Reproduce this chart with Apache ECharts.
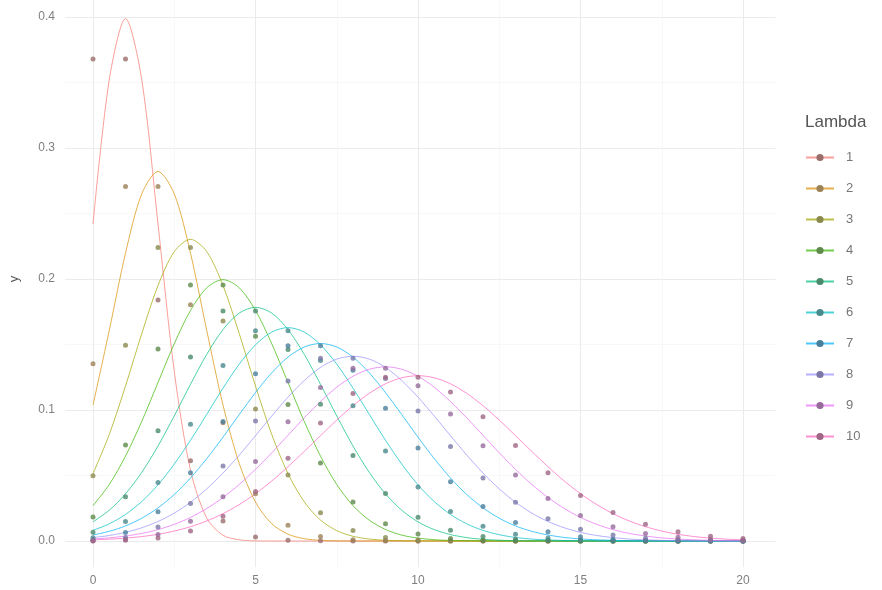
<!DOCTYPE html>
<html><head><meta charset="utf-8">
<script src="https://cdn.jsdelivr.net/npm/echarts@6/dist/echarts.min.js"></script>
<style>html,body{margin:0;padding:0;background:#fff}#c{width:882px;height:590px}</style>
</head><body><div id="c"></div>
<script>
const lambdas = ['1','2','3','4','5','6','7','8','9','10'];
const xTicks = [0,5,10,15,20];
const yTicks = [0.0,0.1,0.2,0.3,0.4];
const pointX = [0,1,2,3,4,5,6,7,8,9,10,11,12,13,14,15,16,17,18,19,20];
const curveX = [0,0.5,1,1.5,2,2.5,3,3.5,4,4.5,5,5.5,6,6.5,7,7.5,8,8.5,9,9.5,10,10.5,11,11.5,12,12.5,13,13.5,14,14.5,15,15.5,16,16.5,17,17.5,18,18.5,19,19.5,20];

// Poisson probabilities (points)
const pois1 = [0.3679,0.3679,0.1839,0.0613,0.0153,0.0031,0.0005,0.0001,0,0,0,0,0,0,0,0,0,0,0,0,0];
const pois2 = [0.1353,0.2707,0.2707,0.1804,0.0902,0.0361,0.0120,0.0034,0.0009,0.0002,0,0,0,0,0,0,0,0,0,0,0];
const pois3 = [0.0498,0.1494,0.2240,0.2240,0.1680,0.1008,0.0504,0.0216,0.0081,0.0027,0.0008,0.0002,0.0001,0,0,0,0,0,0,0,0];
const pois4 = [0.0183,0.0733,0.1465,0.1954,0.1954,0.1563,0.1042,0.0595,0.0298,0.0132,0.0053,0.0019,0.0006,0.0002,0.0001,0,0,0,0,0,0];
const pois5 = [0.0067,0.0337,0.0842,0.1404,0.1755,0.1755,0.1462,0.1044,0.0653,0.0363,0.0181,0.0082,0.0034,0.0013,0.0005,0.0002,0,0,0,0,0];
const pois6 = [0.0025,0.0149,0.0446,0.0892,0.1339,0.1606,0.1606,0.1377,0.1033,0.0688,0.0413,0.0225,0.0113,0.0052,0.0022,0.0009,0.0003,0.0001,0,0,0];
const pois7 = [0.0009,0.0064,0.0223,0.0521,0.0912,0.1277,0.1490,0.1490,0.1304,0.1014,0.0710,0.0452,0.0263,0.0142,0.0071,0.0033,0.0014,0.0006,0.0002,0.0001,0];
const pois8 = [0.0003,0.0027,0.0107,0.0286,0.0573,0.0916,0.1221,0.1396,0.1396,0.1241,0.0993,0.0722,0.0481,0.0296,0.0169,0.0090,0.0045,0.0021,0.0009,0.0004,0.0002];
const pois9 = [0.0001,0.0011,0.0050,0.0150,0.0337,0.0607,0.0911,0.1171,0.1318,0.1318,0.1186,0.0970,0.0728,0.0504,0.0324,0.0194,0.0109,0.0058,0.0029,0.0014,0.0006];
const pois10 = [0.0000,0.0005,0.0023,0.0076,0.0189,0.0378,0.0631,0.0901,0.1126,0.1251,0.1251,0.1137,0.0948,0.0729,0.0521,0.0347,0.0217,0.0128,0.0071,0.0037,0.0019];

// Normal density curves (lines)
const norm1 = [0.2420,0.3521,0.3989,0.3521,0.2420,0.1295,0.0540,0.0175,0.0044,0.0009,0.0001,0,0,0,0,0,0,0,0,0,0,0,0,0,0,0,0,0,0,0,0,0,0,0,0,0,0,0,0,0,0];
const norm2 = [0.1038,0.1607,0.2197,0.2650,0.2821,0.2650,0.2197,0.1607,0.1038,0.0591,0.0297,0.0132,0.0052,0.0018,0.0005,0.0001,0,0,0,0,0,0,0,0,0,0,0,0,0,0,0,0,0,0,0,0,0,0,0,0,0];
const norm3 = [0.0514,0.0813,0.1183,0.1583,0.1950,0.2209,0.2303,0.2209,0.1950,0.1583,0.1183,0.0813,0.0514,0.0299,0.0160,0.0079,0.0036,0.0015,0.0006,0.0002,0.0001,0,0,0,0,0,0,0,0,0,0,0,0,0,0,0,0,0,0,0,0];
const norm4 = [0.0270,0.0431,0.0648,0.0913,0.1210,0.1506,0.1760,0.1933,0.1995,0.1933,0.1760,0.1506,0.1210,0.0913,0.0648,0.0431,0.0270,0.0159,0.0088,0.0045,0.0022,0.0010,0.0004,0.0002,0.0001,0,0,0,0,0,0,0,0,0,0,0,0,0,0,0,0];
const norm5 = [0.0146,0.0235,0.0360,0.0524,0.0725,0.0955,0.1196,0.1425,0.1614,0.1740,0.1784,0.1740,0.1614,0.1425,0.1196,0.0955,0.0725,0.0524,0.0360,0.0235,0.0146,0.0087,0.0049,0.0026,0.0013,0.0006,0.0003,0.0001,0.0001,0,0,0,0,0,0,0,0,0,0,0,0];
const norm6 = [0.0081,0.0131,0.0203,0.0301,0.0429,0.0587,0.0769,0.0967,0.1167,0.1350,0.1498,0.1595,0.1629,0.1595,0.1498,0.1350,0.1167,0.0967,0.0769,0.0587,0.0429,0.0301,0.0203,0.0131,0.0081,0.0048,0.0027,0.0015,0.0008,0.0004,0.0002,0.0001,0,0,0,0,0,0,0,0,0];
const norm7 = [0.0046,0.0074,0.0115,0.0174,0.0253,0.0355,0.0481,0.0629,0.0793,0.0965,0.1133,0.1284,0.1404,0.1481,0.1508,0.1481,0.1404,0.1284,0.1133,0.0965,0.0793,0.0629,0.0481,0.0355,0.0253,0.0174,0.0115,0.0074,0.0046,0.0027,0.0016,0.0009,0.0005,0.0002,0.0001,0.0001,0,0,0,0,0];
const norm8 = [0.0026,0.0042,0.0066,0.0101,0.0149,0.0213,0.0296,0.0398,0.0519,0.0656,0.0804,0.0954,0.1098,0.1225,0.1325,0.1389,0.1410,0.1389,0.1325,0.1225,0.1098,0.0954,0.0804,0.0656,0.0519,0.0398,0.0296,0.0213,0.0149,0.0101,0.0066,0.0042,0.0026,0.0015,0.0009,0.0005,0.0003,0.0001,0.0001,0,0];
const norm9 = [0.0015,0.0024,0.0038,0.0058,0.0087,0.0127,0.0180,0.0248,0.0332,0.0432,0.0547,0.0673,0.0807,0.0940,0.1065,0.1174,0.1258,0.1311,0.1330,0.1311,0.1258,0.1174,0.1065,0.0940,0.0807,0.0673,0.0547,0.0432,0.0332,0.0248,0.0180,0.0127,0.0087,0.0058,0.0038,0.0024,0.0015,0.0009,0.0005,0.0003,0.0002];
const norm10 = [0.0009,0.0014,0.0022,0.0034,0.0051,0.0076,0.0109,0.0153,0.0209,0.0278,0.0361,0.0458,0.0567,0.0684,0.0804,0.0923,0.1033,0.1127,0.1200,0.1246,0.1262,0.1246,0.1200,0.1127,0.1033,0.0923,0.0804,0.0684,0.0567,0.0458,0.0361,0.0278,0.0209,0.0153,0.0109,0.0076,0.0051,0.0034,0.0022,0.0014,0.0009];

const poisSets = [pois1,pois2,pois3,pois4,pois5,pois6,pois7,pois8,pois9,pois10];
const normSets = [norm1,norm2,norm3,norm4,norm5,norm6,norm7,norm8,norm9,norm10];

const lineColors = ['#F8766D','#D89000','#A3A500','#39B600','#00BF7D','#00BFC4','#00B0F6','#9590FF','#E76BF3','#FF62BC'];
const pointColors = ['#9a6e6b','#9c8257','#8a8a4f','#5e8a4c','#4a8a6c','#4a8a8c','#4a7f9c','#7b78a8','#976c9c','#a06685'];

const series = [];
lambdas.forEach((name, i) => {
  series.push({
    name: name, type: 'line', xAxisIndex: 0, yAxisIndex: 0,
    data: curveX.map((x, j) => [x, normSets[i][j]]),
    smooth: 0.3, showSymbol: false, symbol: 'circle', symbolSize: 5,
    itemStyle: { color: pointColors[i] },
    lineStyle: { color: lineColors[i], width: 1, opacity: 0.7 },
    silent: true, z: 2
  });
});
lambdas.forEach((name, i) => {
  series.push({
    name: name, type: 'scatter', xAxisIndex: 0, yAxisIndex: 0,
    data: pointX.map((x, j) => [x, poisSets[i][j]]),
    symbol: 'circle', symbolSize: 5,
    itemStyle: { color: pointColors[i] },
    silent: true, z: 3
  });
});

const gridLine = { lineStyle: { color: '#ebebeb', width: 1 } };
const minorLine = { show: true, lineStyle: { color: '#f3f3f3', width: 0.6 } };
const labelColor = '#7f7f7f';

const option = {
  animation: false,
  backgroundColor: '#ffffff',
  title: { text: 'Lambda', left: 800, top: 109, textStyle: { fontSize: 17, fontWeight: 'normal', color: '#555', fontFamily: 'Liberation Sans' } },
  legend: {
    data: lambdas, orient: 'vertical', left: 800, top: 146,
    itemWidth: 28, itemHeight: 9, itemGap: 18,
    textStyle: { color: '#777', fontSize: 13, fontFamily: 'Liberation Sans', padding: [0,0,0,7] },
    selectedMode: false
  },
  grid: [
    { left: 60.5, right: 106.5, top: 0, bottom: 22.8, show: false },
    { left: 93, right: 139, top: 0, bottom: 22.8, show: false },
    { left: 60.5, right: 106.5, top: 17, bottom: 49, show: false }
  ],
  xAxis: [
    { gridIndex: 0, type: 'value', min: -1, max: 21, show: false },
    { gridIndex: 1, type: 'value', min: xTicks[0], max: xTicks[xTicks.length-1], interval: 5,
      axisLine: { show: false }, axisTick: { show: false },
      axisLabel: { color: labelColor, fontSize: 12, margin: 7, fontFamily: 'Liberation Sans' },
      splitLine: gridLine, minorTick: { show: false, splitNumber: 2 }, minorSplitLine: minorLine },
    { gridIndex: 2, type: 'value', min: 0, max: 1, show: false }
  ],
  yAxis: [
    { gridIndex: 0, type: 'value', min: -0.02, max: 0.413, show: false },
    { gridIndex: 1, type: 'value', min: 0, max: 1, show: false },
    { gridIndex: 2, type: 'value', min: yTicks[0], max: yTicks[yTicks.length-1], interval: 0.1,
      axisLine: { show: false }, axisTick: { show: false },
      axisLabel: { color: labelColor, fontSize: 12, margin: 10, fontFamily: 'Liberation Sans', formatter: v => v.toFixed(1) },
      splitLine: gridLine, minorTick: { show: false, splitNumber: 2 }, minorSplitLine: minorLine,
      name: 'y', nameLocation: 'middle', nameGap: 44, nameRotate: 90,
      nameTextStyle: { color: '#555', fontSize: 13, fontFamily: 'Liberation Sans' } }
  ],
  series: series
};
echarts.init(document.getElementById('c'), null, { renderer: 'canvas' }).setOption(option);
</script>
</body></html>
